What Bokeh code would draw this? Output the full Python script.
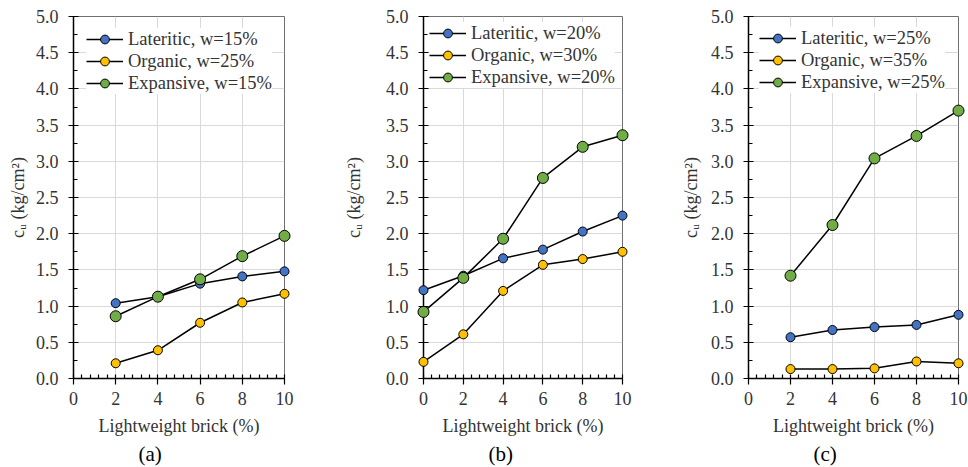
import numpy as np
from bokeh.plotting import figure
from bokeh.layouts import row
from bokeh.models import (Range1d, FixedTicker, PrintfTickFormatter, Legend,
                          LegendItem, Title)
from bokeh.embed import file_html
from bokeh.resources import INLINE

# ---- data ----
x_a = [2, 4, 6, 8, 10]
lateritic_a = [1.04, 1.13, 1.31, 1.41, 1.48]
organic_a = [0.21, 0.39, 0.77, 1.05, 1.17]
expansive_a = [0.86, 1.13, 1.37, 1.69, 1.97]
labels_a = ["Lateritic, w=15%", "Organic, w=25%", "Expansive, w=15%"]

x_b = [0, 2, 4, 6, 8, 10]
lateritic_b = [1.22, 1.42, 1.66, 1.78, 2.03, 2.25]
organic_b = [0.23, 0.61, 1.21, 1.57, 1.65, 1.75]
expansive_b = [0.92, 1.39, 1.93, 2.77, 3.20, 3.36]
labels_b = ["Lateritic, w=20%", "Organic, w=30%", "Expansive, w=20%"]

x_c = [2, 4, 6, 8, 10]
lateritic_c = [0.57, 0.67, 0.71, 0.74, 0.88]
organic_c = [0.13, 0.13, 0.14, 0.235, 0.21]
expansive_c = [1.42, 2.12, 3.04, 3.35, 3.70]
labels_c = ["Lateritic, w=25%", "Organic, w=35%", "Expansive, w=25%"]

x_ticks = [0, 2, 4, 6, 8, 10]
y_ticks = [0.0, 0.5, 1.0, 1.5, 2.0, 2.5, 3.0, 3.5, 4.0, 4.5, 5.0]
captions = ["(a)", "(b)", "(c)"]
x_title = "Lightweight brick (%)"
y_title = "c\u1d64 (kg/cm\u00b2)"

colors = ["#4472C4", "#FFC000", "#70AD47"]
sizes = [9, 9, 11]

FONT = "Liberation Serif"
TXT = "#333333"


def make(xs, series, labels, caption, W, left, right, ystand, leg_loc):
    p = figure(width=W, height=467, x_range=Range1d(0, 10), y_range=Range1d(0, 5),
               output_backend="svg", toolbar_location=None,
               min_border_left=left, min_border_right=right,
               min_border_top=16, min_border_bottom=89)
    p.background_fill_color = "white"
    p.border_fill_color = "white"
    p.outline_line_color = "#6f6f6f"
    p.outline_line_width = 1

    p.xaxis.ticker = FixedTicker(ticks=x_ticks,
                                 minor_ticks=list(np.round(np.arange(0, 10.001, 0.4), 3)))
    p.yaxis.ticker = FixedTicker(ticks=y_ticks,
                                 minor_ticks=list(np.round(np.arange(0.25, 5.0, 0.5), 3)))
    p.yaxis.formatter = PrintfTickFormatter(format="%.1f")

    for ax in (p.xaxis[0], p.yaxis[0]):
        ax.axis_line_color = "black"
        ax.axis_line_width = 1.5
        ax.major_tick_line_color = "black"
        ax.minor_tick_line_color = "black"
        ax.major_tick_line_width = 1.2
        ax.minor_tick_line_width = 1.2
        ax.major_label_text_font = FONT
        ax.major_label_text_font_size = "18px"
        ax.major_label_text_color = TXT
        ax.axis_label_text_font = FONT
        ax.axis_label_text_font_size = "18px"
        ax.axis_label_text_font_style = "normal"
        ax.axis_label_text_color = TXT
        ax.minor_tick_in = 4
        ax.minor_tick_out = 0

    p.xaxis.major_tick_in = 0
    p.xaxis.major_tick_out = 6
    p.xaxis.major_label_standoff = 7
    p.xaxis.axis_label = x_title
    p.xaxis.axis_label_standoff = 8

    p.yaxis.major_tick_in = 5
    p.yaxis.major_tick_out = 5
    p.yaxis.major_label_standoff = 10
    p.yaxis.axis_label = y_title
    p.yaxis.axis_label_standoff = ystand

    p.xgrid.ticker = FixedTicker(ticks=x_ticks)
    p.ygrid.ticker = FixedTicker(ticks=y_ticks)
    p.xgrid.grid_line_color = "#d9d9d9"
    p.ygrid.grid_line_color = "#d9d9d9"

    items = []
    for ys, lab, col, sz in zip(series, labels, colors, sizes):
        lr = p.line(xs, ys, line_color="black", line_width=1.5, level="overlay")
        sr = p.scatter(xs, ys, size=sz, fill_color=col, line_color="black",
                       line_width=1, level="overlay")
        items.append(LegendItem(label=lab, renderers=[lr, sr]))

    leg = Legend(items=items, location=leg_loc)
    leg.border_line_color = None
    leg.background_fill_color = "white"
    leg.background_fill_alpha = 1.0
    leg.padding = 6
    leg.margin = 0
    leg.spacing = 0
    leg.glyph_width = 37
    leg.glyph_height = 22
    leg.label_height = 22
    leg.label_standoff = 5
    leg.label_text_font = FONT
    leg.label_text_font_size = "18.5px"
    leg.label_text_color = TXT
    p.add_layout(leg)

    t = Title(text=caption, align="left", offset=65, standoff=2, text_font=FONT,
              text_font_size="21px", text_font_style="normal", text_color="black")
    p.add_layout(t, "below")
    return p


pa = make(x_a, [lateritic_a, organic_a, expansive_a], labels_a, captions[0],
          340, 73, 56, 5, (13, 284))
pb = make(x_b, [lateritic_b, organic_b, expansive_b], labels_b, captions[1],
          330, 72, 48, 19, (6, 290))
pc = make(x_c, [lateritic_c, organic_c, expansive_c], labels_c, captions[2],
          298, 78, 10, 7, (11, 285))

layout = row(pa, pb, pc)
open("out.html", "w").write(file_html(layout, INLINE))
